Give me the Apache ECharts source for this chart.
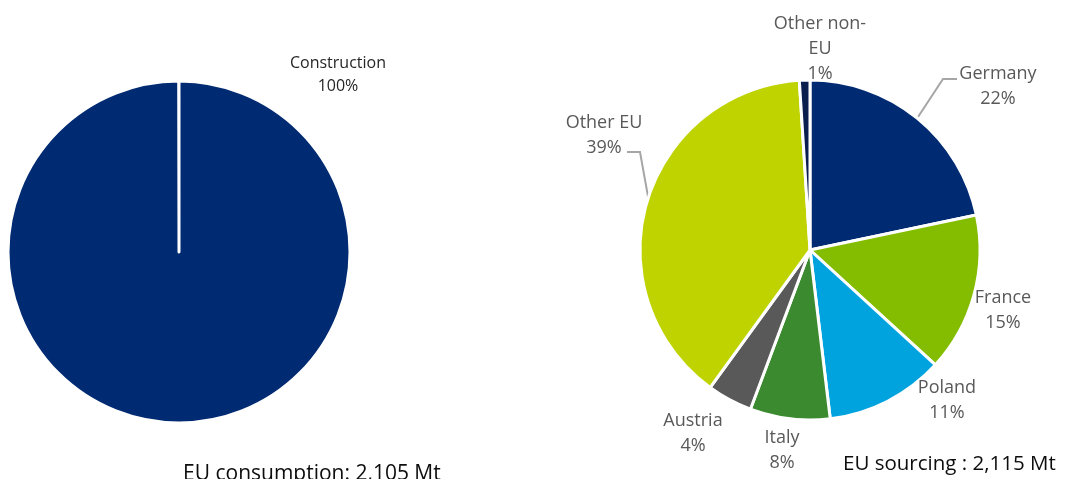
<!DOCTYPE html>
<html>
<head>
<meta charset="utf-8">
<script src="https://cdn.jsdelivr.net/npm/echarts@6/dist/echarts.min.js"></script>
<style>
html,body{margin:0;padding:0;background:#fff;}
#chart{width:1068px;height:479px;}
</style>
</head>
<body>
<div id="chart"></div>
<script>
// ---- data ----
const consumptionCategories = ['Construction'];
const consumptionShares = [100];
const sourcingCategories = ['Germany', 'France', 'Poland', 'Italy', 'Austria', 'Other EU', 'Other non-EU'];
const sourcingShares = [21.7, 15.1, 11.3, 7.6, 4.3, 39.0, 1.0];
const consumptionTitle = 'EU consumption: 2,105 Mt';
const sourcingTitle = 'EU sourcing : 2,115 Mt';

// ---- styles ----
const consumptionColors = ['#002A72'];
const sourcingColors = ['#002A72', '#84BD00', '#00A3DE', '#3B8A2F', '#595959', '#BED300', '#0B1F4F'];
const FONT = '"Open Sans", sans-serif';

// label placement for the sourcing pie (layout, by category index)
const sourcingLabelPos = [
  {x: 998, y: 86, line: [[918, 117], [943, 79], [957, 79]]},
  {x: 1003, y: 310},
  {x: 947, y: 400},
  {x: 782, y: 450},
  {x: 693, y: 433},
  {x: 604, y: 135, line: [[649, 202], [640, 152], [627, 152]]},
  {x: 820, y: 49}
];

const chart = echarts.init(document.getElementById('chart'));

chart.setOption({
  animation: false,
  backgroundColor: '#fff',
  title: [
    {text: consumptionTitle, left: 178, top: 459,
     textStyle: {fontFamily: FONT, fontSize: 21, fontWeight: 'normal', color: '#0d0d0d'}},
    {text: sourcingTitle, left: 838, top: 449,
     textStyle: {fontFamily: FONT, fontSize: 20.5, fontWeight: 'normal', color: '#0d0d0d'}}
  ],
  series: [
    {
      type: 'pie',
      center: [179, 252],
      radius: 171,
      startAngle: 90,
      endAngle: 90 - 359.9,
      clockwise: true,
      silent: true,
      percentPrecision: 0,
      itemStyle: {borderColor: '#fff', borderWidth: 3},
      label: {
        show: true, position: 'outside',
        formatter: '{b}\n{d}%',
        fontFamily: FONT, fontSize: 16, lineHeight: 23, color: '#262626', align: 'center'
      },
      labelLine: {show: false},
      labelLayout: function () {
        return {x: 338, y: 75, align: 'center', verticalAlign: 'middle'};
      },
      emphasis: {disabled: true},
      data: consumptionCategories.map((n, i) => ({
        name: n, value: consumptionShares[i], itemStyle: {color: consumptionColors[i]}
      }))
    },
    {
      type: 'pie',
      center: [810, 250],
      radius: 170,
      startAngle: 90,
      clockwise: true,
      silent: true,
      percentPrecision: 0,
      avoidLabelOverlap: false,
      itemStyle: {borderColor: '#fff', borderWidth: 3},
      label: {
        show: true, position: 'outside',
        formatter: function (p) {
          const name = p.name === 'Other non-EU' ? 'Other non-\nEU' : p.name;
          return name + '\n' + p.percent + '%';
        },
        fontFamily: FONT, fontSize: 18, lineHeight: 25, color: '#595959', align: 'center'
      },
      labelLine: {show: true, lineStyle: {color: '#A6A6A6', width: 2}},
      labelLayout: function (params) {
        const p = sourcingLabelPos[params.dataIndex];
        const out = {x: p.x, y: p.y, align: 'center', verticalAlign: 'middle'};
        if (p.line) out.labelLinePoints = p.line;
        return out;
      },
      emphasis: {disabled: true},
      data: sourcingCategories.map((n, i) => ({
        name: n, value: sourcingShares[i],
        itemStyle: {color: sourcingColors[i]},
        labelLine: {show: !!sourcingLabelPos[i].line}
      }))
    }
  ]
});
</script>
</body>
</html>
